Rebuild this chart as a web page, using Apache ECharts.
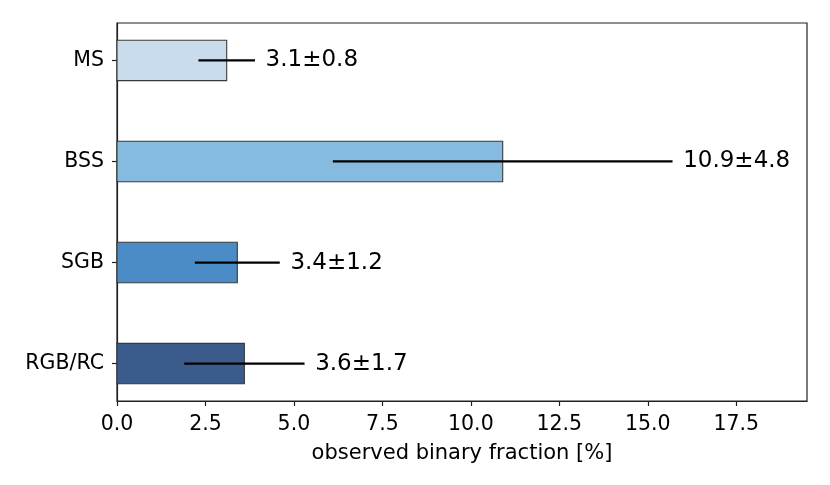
<!DOCTYPE html>
<html>
<head>
<meta charset="utf-8">
<script src="https://cdn.jsdelivr.net/npm/echarts@6/dist/echarts.min.js"></script>
<style>
html,body{margin:0;padding:0;background:#fff;}
#chart{width:830px;height:485px;}
</style>
</head>
<body>
<div id="chart"></div>
<script>
// bottom-to-top order
const categories = ['RGB/RC', 'SGB', 'BSS', 'MS'];
const values = [3.6, 3.4, 10.9, 3.1];
const errors = [1.7, 1.2, 4.8, 0.8];
const barColors = ['#3c5b8d', '#4b8bc6', '#85bbde', '#c8dcee'];
const xTicks = [0, 2.5, 5, 7.5, 10, 12.5, 15, 17.5];

const FONT = 'DejaVu Sans';
const BAR_HALF = 0.2;

const barData = values.map((v, i) => [i, v]);
const errData = values.map((v, i) => [i, v, errors[i]]);

const chart = echarts.init(document.getElementById('chart'), null, {renderer: 'canvas'});
chart.setOption({
  animation: false,
  backgroundColor: '#ffffff',
  grid: {
    left: 117, right: 23, top: 23, bottom: 84,
    show: true, borderColor: '#222', borderWidth: 1.2, backgroundColor: 'transparent'
  },
  xAxis: {
    type: 'value',
    min: 0, max: 19.5,
    name: 'observed binary fraction [%]',
    nameLocation: 'middle',
    nameGap: 42,
    nameTextStyle: {fontFamily: FONT, fontSize: 21, color: '#000'},
    axisLine: {show: true, onZero: false, lineStyle: {color: '#222', width: 1.2}},
    axisTick: {show: true, length: 5, customValues: xTicks, lineStyle: {color: '#222', width: 1.2}},
    axisLabel: {
      fontFamily: FONT, fontSize: 20.5, color: '#000', margin: 13,
      customValues: xTicks,
      formatter: v => v.toFixed(1)
    },
    splitLine: {show: false}
  },
  yAxis: {
    type: 'value',
    min: -0.37, max: 3.37,
    axisLine: {show: true, onZero: false, lineStyle: {color: '#222', width: 1.2}},
    axisTick: {show: true, length: 5, customValues: [0, 1, 2, 3], lineStyle: {color: '#222', width: 1.2}},
    axisLabel: {
      fontFamily: FONT, fontSize: 20.5, color: '#000', margin: 13,
      customValues: [0, 1, 2, 3],
      formatter: v => categories[Math.round(v)]
    },
    splitLine: {show: false}
  },
  series: [
    {
      type: 'custom',
      data: barData,
      encode: {x: 1, y: 0},
      renderItem: function (params, api) {
        const i = api.value(0), v = api.value(1);
        const p0 = api.coord([0, i + BAR_HALF]);
        const p1 = api.coord([v, i - BAR_HALF]);
        return {
          type: 'rect',
          shape: {x: p0[0], y: p0[1], width: p1[0] - p0[0], height: p1[1] - p0[1]},
          style: {fill: barColors[i], stroke: '#3a3a3a', lineWidth: 1.1}
        };
      }
    },
    {
      type: 'custom',
      data: errData,
      encode: {x: 1, y: 0},
      renderItem: function (params, api) {
        const i = api.value(0), v = api.value(1), e = api.value(2);
        const a = api.coord([v - e, i]);
        const b = api.coord([v + e, i]);
        const t = api.coord([v + e + 0.3, i]);
        return {
          type: 'group',
          children: [
            {type: 'line', shape: {x1: a[0], y1: a[1], x2: b[0], y2: b[1]},
             style: {stroke: '#000', lineWidth: 2.3}},
            {type: 'text', x: t[0], y: t[1],
             style: {text: v.toFixed(1) + '±' + e.toFixed(1), fontFamily: FONT, fontSize: 23,
                     fill: '#000', align: 'left', verticalAlign: 'middle'}}
          ]
        };
      }
    }
  ]
});
</script>
</body>
</html>
